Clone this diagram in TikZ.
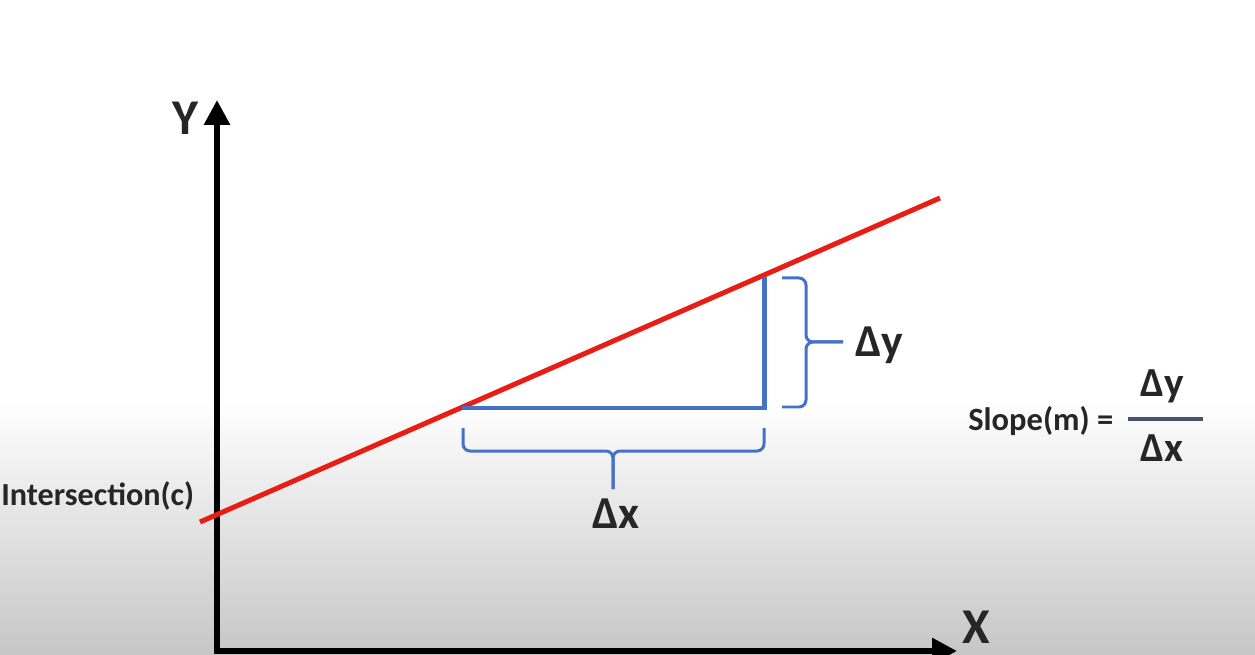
\documentclass[tikz,border=0pt]{standalone}
\usepackage{fontspec}
\setmainfont{Carlito}
\usetikzlibrary{arrows.meta,positioning}
\definecolor{lnRed}{RGB}{232,30,22}
\definecolor{lnBlue}{RGB}{68,114,196}
\definecolor{txtDark}{RGB}{38,38,38}
\definecolor{barSlate}{RGB}{68,84,106}
\definecolor{bgGray}{RGB}{198,198,198}

\begin{document}
\begin{tikzpicture}[
  x=0.02cm, y=-0.02cm,
  lbl/.style={text=txtDark, inner sep=0pt, anchor=base west},
  axlbl/.style={lbl, font=\fontsize{28.5pt}{30pt}\selectfont\bfseries},
  dlbl/.style={lbl, font=\fontsize{26pt}{28pt}\selectfont\bfseries},
  flbl/.style={lbl, font=\fontsize{23.5pt}{25pt}\selectfont\bfseries},
  slbl/.style={lbl, font=\fontsize{18.5pt}{20pt}\selectfont\bfseries},
  ilbl/.style={lbl, font=\fontsize{18.3pt}{20pt}\selectfont\bfseries},
  axis/.style={line width=0.12cm, line join=miter,
    {Triangle[width=0.5cm,length=0.5cm]}-{Triangle[width=0.5cm,length=0.5cm]}},
  fitline/.style={lnRed, line width=0.1cm},
  leg/.style={lnBlue, line width=0.1cm, line join=miter},
  brace/.style={lnBlue, line width=0.06cm, rounded corners=0.14cm},
]
% background
\useasboundingbox (0,0) rectangle (1255,655);
\fill[white] (0,0) rectangle (1255,400);
\shade[top color=white, bottom color=bgGray] (0,400) rectangle (1255,655);
% axes
\coordinate (o) at (217,651);
\coordinate (ytip) at (217,100);
\coordinate (xtip) at (957,651);
\draw[axis] (ytip) -- (o) -- (xtip);
\node[axlbl] (ylbl) at (172,135) {Y};
\node[axlbl] (xlbl) at (962,643) {X};
% regression line
\coordinate (r0) at (200,522);
\coordinate (r1) at (940,198);
\draw[fitline] (r0) -- (r1);
% rise / run
\coordinate (pa) at (462,408);
\coordinate (pb) at (764,408);
\coordinate (pc) at (764,277);
\draw[leg] (pa) -- (pb) -- (pc);
% braces
\coordinate (dytip) at (843,342);
\draw[brace] (782,278) -- (806,278) -- (806,342) -- (dytip);
\draw[brace] (782,407) -- (806,407) -- (806,342) -- (dytip);
\coordinate (dxtip) at (613,489);
\draw[brace] (463,428) -- (463,451) -- (613,451) -- (dxtip);
\draw[brace] (764,428) -- (764,451) -- (613,451) -- (dxtip);
\node[dlbl] (dy) at (855,357) {Δy};
\node[dlbl] (dx) at (592,528) {Δx};
% labels
\node[ilbl] (icpt) at (1,505) {Intersection(c)};
\node[slbl] (slope) at (968,430) {Slope(m) =};
\node[flbl] (fnum) at (1140,397) {Δy};
\node[flbl] (fden) at (1140,461) {Δx};
\coordinate (bl) at (1128,419);
\coordinate (br) at (1203,419);
\draw[barSlate, line width=0.1cm] (bl) -- (br);
\end{tikzpicture}
\end{document}
